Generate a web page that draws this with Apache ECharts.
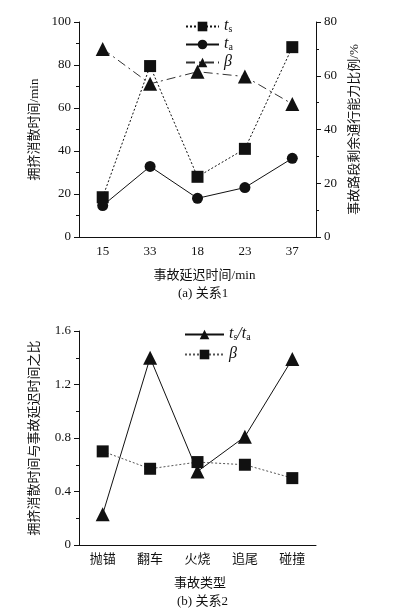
<!DOCTYPE html>
<html>
<head>
<meta charset="utf-8">
<script src="https://cdn.jsdelivr.net/npm/echarts@6/dist/echarts.min.js"></script>
<style>
  html, body { margin: 0; padding: 0; background: #fff; }
  #chart { width: 396px; height: 613px; }
</style>
</head>
<body>
<div id="chart"></div>
<script>
// (a) 关系1
var delayCats = ['15', '33', '18', '23', '37'];
var tsData = [18.5, 79.5, 28, 41, 88.3];
var taData = [14.6, 32.8, 18, 23, 36.6];
var betaPct = [70, 57, 61.5, 59.7, 49.5];

// (b) 关系2
var typeCats = ['抛锚', '翻车', '火烧', '追尾', '碰撞'];
var ratioData = [0.23, 1.40, 0.55, 0.81, 1.39];
var betaRatio = [0.70, 0.57, 0.62, 0.60, 0.50];

var serif = '"Liberation Serif", "Noto Sans CJK SC", serif';
var black = '#111';

var legendRich = {
  i: { fontFamily: serif, fontStyle: 'italic', fontSize: 16, color: black, verticalAlign: 'bottom', lineHeight: 15 },
  s: { fontFamily: serif, fontSize: 10, color: black, verticalAlign: 'bottom', lineHeight: 11 }
};
function legendName(name) {
  if (name === 'ts') return '{i|t}{s|s}';
  if (name === 'ta') return '{i|t}{s|a}';
  if (name === 'ts/ta') return '{i|t}{s|s}{i|/t}{s|a}';
  return '{i|β}';
}

function xAxisOf(idx, cats, name, shift) {
  return {
    type: 'category', gridIndex: idx, data: cats, boundaryGap: true,
    name: name, nameLocation: 'middle', nameGap: 32,
    nameTextStyle: { fontFamily: serif, fontSize: 13, color: black, padding: [0, 0, 0, shift] },
    axisLine: { lineStyle: { color: black, width: 1 } },
    axisTick: { length: 5, lineStyle: { color: black } },
    axisLabel: { fontFamily: serif, fontSize: 13, color: black, margin: 8 },
    splitLine: { show: false }
  };
}

function yAxisOf(idx, pos, max, interval, name, gap) {
  return {
    type: 'value', gridIndex: idx, position: pos, min: 0, max: max, interval: interval,
    name: name, nameLocation: 'middle', nameGap: gap, nameRotate: 90,
    nameTextStyle: { fontFamily: serif, fontSize: 13, color: black },
    axisLine: { show: true, lineStyle: { color: black, width: 1 } },
    axisTick: { show: true, length: 5, lineStyle: { color: black } },
    minorTick: { show: true, splitNumber: 2, length: 3, lineStyle: { color: black } },
    axisLabel: { fontFamily: serif, fontSize: 13, color: black, margin: 8 },
    splitLine: { show: false }
  };
}

var chart = echarts.init(document.getElementById('chart'));
chart.setOption({
  animation: false,
  backgroundColor: '#fff',
  grid: [
    { left: 79, width: 237, top: 22, height: 215 },
    { left: 79, width: 237, top: 331, height: 214 }
  ],
  title: [
    { text: '(a) 关系1', left: 178, top: 287, padding: 0,
      textStyle: { fontFamily: serif, fontSize: 13, fontWeight: 'normal', color: black } },
    { text: '(b) 关系2', left: 177, top: 595, padding: 0,
      textStyle: { fontFamily: serif, fontSize: 13, fontWeight: 'normal', color: black } }
  ],
  legend: [
    {
      orient: 'vertical', left: 185, top: 18, padding: 0, itemGap: 2,
      itemWidth: 33, itemHeight: 12,
      data: ['ts', 'ta', 'β'],
      formatter: legendName,
      textStyle: { rich: legendRich }
    },
    {
      orient: 'vertical', left: 184, top: 326, padding: 0, itemGap: 4,
      itemWidth: 39, itemHeight: 12,
      data: ['ts/ta', 'β2'],
      formatter: legendName,
      textStyle: { rich: legendRich }
    }
  ],
  xAxis: [
    xAxisOf(0, delayCats, '事故延迟时间/min', 14),
    xAxisOf(1, typeCats, '事故类型', 5)
  ],
  yAxis: [
    yAxisOf(0, 'left', 100, 20, '拥挤消散时间/min', 34),
    yAxisOf(0, 'right', 80, 20, '事故路段剩余通行能力比例/%', 30),
    yAxisOf(1, 'left', 1.6, 0.4, '拥挤消散时间与事故延迟时间之比', 38)
  ],
  series: [
    { name: 'ts', type: 'line', xAxisIndex: 0, yAxisIndex: 0, data: tsData,
      symbol: 'rect', symbolSize: 12, itemStyle: { color: black },
      lineStyle: { color: black, width: 1, type: [2, 2] } },
    { name: 'ta', type: 'line', xAxisIndex: 0, yAxisIndex: 0, data: taData,
      symbol: 'circle', symbolSize: 11, itemStyle: { color: black },
      lineStyle: { color: black, width: 1 } },
    { name: 'β', type: 'line', xAxisIndex: 0, yAxisIndex: 1, data: betaPct,
      symbol: 'triangle', symbolSize: 14, itemStyle: { color: black },
      lineStyle: { color: '#333', width: 1, type: [9, 4, 2, 4] } },
    { name: 'ts/ta', type: 'line', xAxisIndex: 1, yAxisIndex: 2, data: ratioData,
      symbol: 'triangle', symbolSize: 14, itemStyle: { color: black },
      lineStyle: { color: black, width: 1 } },
    { name: 'β2', type: 'line', xAxisIndex: 1, yAxisIndex: 2, data: betaRatio,
      symbol: 'rect', symbolSize: 12, itemStyle: { color: black },
      lineStyle: { color: '#555', width: 1, type: [2, 2] } }
  ]
});
</script>
</body>
</html>
